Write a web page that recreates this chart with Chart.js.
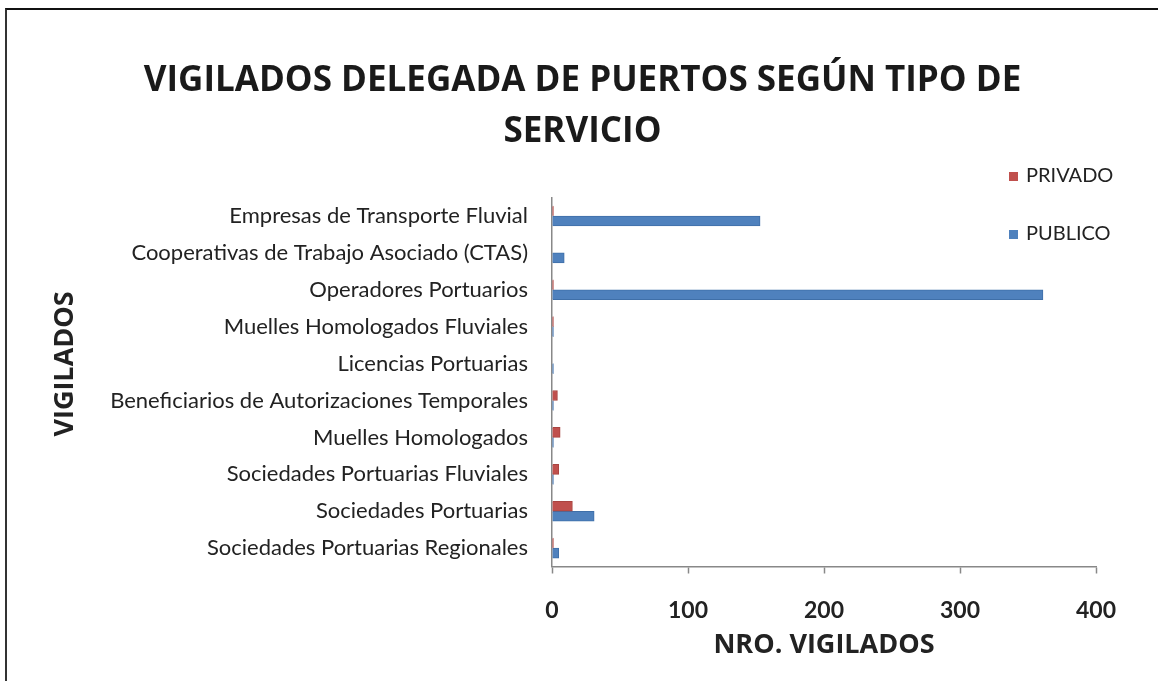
<!DOCTYPE html>
<html>
<head>
<meta charset="utf-8">
<script src="https://cdn.jsdelivr.net/npm/chart.js@4.4.1/dist/chart.umd.min.js"></script>
<style>
  html, body { margin: 0; padding: 0; background: #fff; }
  #wrap {
    position: absolute; left: 5px; top: 8px; width: 1153px; height: 673px;
    border-left: 2px solid #333; border-top: 2px solid #111; box-sizing: border-box;
  }
  canvas { display: block; }
</style>
</head>
<body>
<div id="wrap"><canvas id="chart" width="1151" height="671"></canvas></div>
<script>
  // categories, top to bottom
  const categorias = [
    'Empresas de Transporte Fluvial',
    'Cooperativas de Trabajo Asociado (CTAS)',
    'Operadores Portuarios',
    'Muelles Homologados Fluviales',
    'Licencias Portuarias',
    'Beneficiarios de Autorizaciones Temporales',
    'Muelles Homologados',
    'Sociedades Portuarias Fluviales',
    'Sociedades Portuarias',
    'Sociedades Portuarias Regionales'
  ];
  const privado = [1, 0, 1, 1, 0, 4, 6, 5, 15, 1];
  const publico = [153, 9, 361, 1, 1, 1, 1, 1, 31, 5];
  const xTicks = [0, 100, 200, 300, 400];

  const ROJO = '#C0504D';
  const AZUL = '#4F81BD';

  // legend at the right (overlaps the plot area like the original) + rotated y title
  const extras = {
    id: 'extras',
    afterDraw(chart) {
      const ctx = chart.ctx;
      const rows = [166, 224];
      ctx.save();
      ctx.font = '20px Lato';
      ctx.textBaseline = 'middle';
      chart.data.datasets.forEach((ds, i) => {
        ctx.fillStyle = ds.backgroundColor;
        ctx.fillRect(1002, rows[i] - 4, 9, 9);
        ctx.fillStyle = '#222';
        ctx.fillText(ds.label, 1019, rows[i]);
      });
      ctx.translate(58, 354);
      ctx.rotate(-Math.PI / 2);
      ctx.font = 'bold 27px "Open Sans"';
      ctx.textAlign = 'center';
      ctx.fillStyle = '#222';
      ctx.fillText('VIGILADOS', 0, 0);
      ctx.restore();
    }
  };

  new Chart(document.getElementById('chart').getContext('2d'), {
    type: 'bar',
    data: {
      labels: categorias,
      datasets: [
        { label: 'PRIVADO', data: privado, backgroundColor: ROJO, borderColor: '#a94440', borderWidth: 1 },
        { label: 'PUBLICO', data: publico, backgroundColor: AZUL, borderColor: '#3f6fa8', borderWidth: 1 }
      ]
    },
    options: {
      indexAxis: 'y',
      responsive: false,
      animation: false,
      layout: { padding: { left: 41, right: 41, top: 46, bottom: 19 } },
      datasets: { bar: { barThickness: 10 } },
      scales: {
        x: {
          min: 0, max: 400,
          afterBuildTicks: (s) => { s.ticks = xTicks.map(v => ({ value: v })); },
          // long tick slot, but only a short dash is visible
          grid: { display: true, drawOnChartArea: false, drawTicks: true, tickLength: 30,
                  tickColor: '#888', tickWidth: 1.5, tickBorderDash: [6, 80] },
          border: { display: true, color: '#888', width: 1.5 },
          ticks: { color: '#222', font: { family: 'Lato', size: 23, weight: 'bold', lineHeight: 1 }, padding: 2 },
          title: { display: true, text: 'NRO. VIGILADOS', color: '#222',
                   font: { family: 'Open Sans', size: 27, weight: 'bold' }, padding: { top: 6, bottom: 0 } }
        },
        y: {
          afterFit: (s) => { s.width = 504; },
          grid: { display: false, drawTicks: false },
          border: { display: true, color: '#888', width: 1.5 },
          ticks: { color: '#222', font: { family: 'Lato', size: 22 }, padding: 24 }
        },
        // empty spacer on the right so the title stays centred on the page
        y2: {
          type: 'linear', axis: 'y', position: 'right',
          afterFit: (s) => { s.width = 21; },
          grid: { display: false, drawTicks: false },
          border: { display: false },
          ticks: { display: false }
        }
      },
      plugins: {
        legend: { display: false },
        tooltip: { enabled: false },
        title: {
          display: true,
          text: ['VIGILADOS DELEGADA DE PUERTOS SEGÚN TIPO DE', 'SERVICIO'],
          color: '#1a1a1a',
          font: { family: 'Open Sans', size: 35, weight: 'bold', lineHeight: 1.45 },
          padding: { top: 0, bottom: 40 }
        }
      }
    },
    plugins: [extras]
  });
</script>
</body>
</html>
